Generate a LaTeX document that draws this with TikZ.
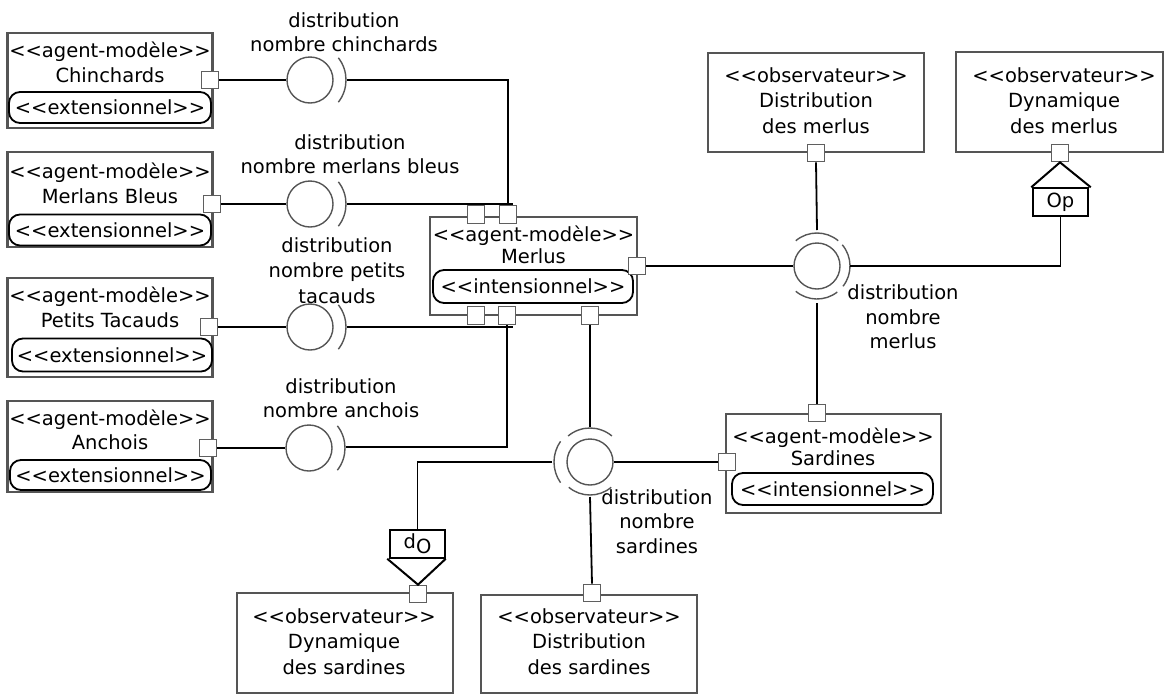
\documentclass[tikz,border=0pt]{standalone}
\usepackage{fontspec}
\newfontfamily\dv{DejaVu Sans}
\definecolor{boxgray}{RGB}{85,85,85}
\definecolor{portgray}{RGB}{95,95,95}
\definecolor{circgray}{RGB}{85,85,85}
\begin{document}
\begin{tikzpicture}[x=1pt,y=-1pt,
  font=\dv\fontsize{19.5}{24.5}\selectfont,
  box/.style={draw=boxgray, line width=2.8pt, rectangle, inner sep=0pt},
  pill/.style={draw=black, line width=1.8pt, rounded corners=11pt, inner xsep=0pt, inner ysep=0pt},
  port/.style={draw=portgray, fill=white, line width=1.2pt, minimum size=17.5pt, inner sep=0pt},
  ball/.style={circle, draw=circgray, line width=1.4pt, minimum size=46pt, inner sep=0pt},
  sock/.style={draw=circgray, line width=1.4pt},
  wire/.style={draw=black, line width=1.8pt},
  tri/.style={draw=black, line width=2pt},
  opbox/.style={draw=black, line width=1.5pt, inner sep=0pt, minimum width=55pt, minimum height=28pt},
  txt/.style={align=center, inner sep=0pt, anchor=base},
  sp22/.style={font=\dv\fontsize{19.5}{22}\selectfont},
  sp25/.style={font=\dv\fontsize{19.5}{25.5}\selectfont},
]
\useasboundingbox (0,0) rectangle (1167,694);

% ---------- boxes ----------
\node[box, minimum width=205pt, minimum height=95pt] (chin) at (110,80.5) {};
\node[box, minimum width=205pt, minimum height=95pt] (mb) at (110,199.5) {};
\node[box, minimum width=205pt, minimum height=99pt] (pt) at (110,327.5) {};
\node[box, minimum width=205pt, minimum height=91pt] (anc) at (110,446.5) {};
\node[box, minimum width=207pt, minimum height=98pt] (merl) at (533.5,266) {};
\node[box, minimum width=215pt, minimum height=99pt] (sard) at (833.5,463.5) {};
\node[box, minimum width=216pt, minimum height=99pt] (dm) at (816,102.5) {};
\node[box, minimum width=207pt, minimum height=100pt] (dym) at (1059.5,102) {};
\node[box, minimum width=216pt, minimum height=100pt] (dys) at (345,643) {};
\node[box, minimum width=216pt, minimum height=98pt] (dss) at (589,644) {};

% ---------- pills ----------
\node[pill, minimum width=202pt, minimum height=31pt] (chinpill) at (110,107.5) {<<extensionnel>>};
\node[pill, minimum width=202pt, minimum height=31pt] (mbpill) at (110,230) {<<extensionnel>>};
\node[pill, minimum width=200pt, minimum height=33pt] (ptpill) at (112,355) {<<extensionnel>>};
\node[pill, minimum width=201pt, minimum height=30pt] (ancpill) at (110.5,475) {<<extensionnel>>};
\node[pill, minimum width=200pt, minimum height=33pt] (merlpill) at (533,286.5) {<<intensionnel>>};
\node[pill, minimum width=201pt, minimum height=32pt] (sardpill) at (832.5,489) {<<intensionnel>>};

% ---------- titles (anchor = baseline of last line) ----------
\node[txt] (tchin) at (110,82) {<<agent-modèle>>\\Chinchards};
\node[txt] (tmb) at (110,203) {<<agent-modèle>>\\Merlans Bleus};
\node[txt] (tpt) at (110,327) {<<agent-modèle>>\\Petits Tacauds};
\node[txt] (tanc) at (110,449.5) {<<agent-modèle>>\\Anchois};
\node[txt, sp22] (tmerl) at (533.5,263.5) {<<agent-modèle>>\\Merlus};
\node[txt, sp22] (tsard) at (833,465) {<<agent-modèle>>\\Sardines};
\node[txt, sp25] (tdm) at (816,133) {<<observateur>>\\Distribution\\des merlus};
\node[txt, sp25] (tdym) at (1064,133) {<<observateur>>\\Dynamique\\des merlus};
\node[txt, sp25] (tdys) at (344,674) {<<observateur>>\\Dynamique\\des sardines};
\node[txt, sp25] (tdss) at (589,674) {<<observateur>>\\Distribution\\des sardines};

% ---------- interface labels ----------
\node[txt] (lchin) at (344,51.5) {distribution\\nombre chinchards};
\node[txt] (lmb) at (350,173.5) {distribution\\nombre merlans bleus};
\node[txt, sp25] (lpt) at (337,303) {distribution\\nombre petits\\tacauds};
\node[txt] (lanc) at (341,417.5) {distribution\\nombre anchois};
\node[txt] (lmerl) at (903,348.5) {distribution\\nombre\\merlus};
\node[txt] (lsard) at (657,553) {distribution\\nombre\\sardines};

% ---------- balls ----------
\node[ball] (bchin) at (310,80) {};
\node[ball] (bmb) at (310,204) {};
\node[ball] (bpt) at (310,327) {};
\node[ball] (banc) at (309,448) {};
\node[ball] (bmerl) at (817,266) {};
\node[ball] (bsard) at (590,462) {};

% sockets of the lollipops
\foreach \b in {bchin,bmb,bpt,banc}{
  \draw[sock] ([shift={(-38:36pt)}]\b.center) arc[start angle=-38,end angle=38,radius=36pt];
}
% merlus socket
\draw[sock] ([shift={(50:33pt)}]bmerl.center) arc[start angle=50,end angle=130,radius=33pt];
\draw[sock] ([shift={(-38:33pt)}]bmerl.center) arc[start angle=-38,end angle=40,radius=33pt];
\draw[sock] ([shift={(-130:33pt)}]bmerl.center) arc[start angle=-130,end angle=-52,radius=33pt];
% sardines socket
\draw[sock] ([shift={(50:34pt)}]bsard.center) arc[start angle=50,end angle=130,radius=34pt];
\draw[sock] ([shift={(145:36pt)}]bsard.center) arc[start angle=145,end angle=215,radius=36pt];
\draw[sock] ([shift={(-130:33pt)}]bsard.center) arc[start angle=-130,end angle=-50,radius=33pt];

% ---------- ports ----------
\node[port] (pchin) at (210,80) {};
\node[port] (pmb) at (212,204) {};
\node[port] (ppt) at (209,327) {};
\node[port] (panc) at (208,448) {};
\node[port] (pmt1) at (476,214.5) {};
\node[port] (pmt2) at (508,214.5) {};
\node[port] (pmr) at (637,266) {};
\node[port] (pmb1) at (476,315.5) {};
\node[port] (pmb2) at (507,315.5) {};
\node[port] (pmb3) at (590,315.5) {};
\node[port] (pst) at (817,413) {};
\node[port] (psl) at (727,462) {};
\node[port] (pdm) at (816,153) {};
\node[port] (pdym) at (1060,153) {};
\node[port] (pdys) at (418,594) {};
\node[port] (pdss) at (592,593) {};

% ---------- Op / dO ----------
\node[opbox] (op) at (1060.5,202) {Op};
\node[opbox] (do) at (417.5,544) {d\raisebox{-5pt}{O}};
\draw[tri] ([xshift=-1pt]op.north west) -- (pdym.south) -- ([xshift=2pt]op.north east);
\draw[tri] ([xshift=-2pt]do.south west) -- (pdys.north) -- (do.south east);

% ---------- wires ----------
\draw[wire] (pchin.east) -- (bchin.west);
\draw[wire] ([xshift=37pt]bchin.center) -| (pmt2.north);
\draw[wire] (pmb.east) -- (bmb.west);
\draw[wire] ([xshift=37pt]bmb.center) -- ([xshift=37pt]bmb.center -| pmt1.center);
\draw[wire] (ppt.east) -- (bpt.west);
\draw[wire] ([xshift=37pt]bpt.center) -- ([xshift=37pt]bpt.center -| pmb1.center);
\draw[wire] (panc.east) -- (banc.west);
\draw[wire] ([xshift=37pt,yshift=1pt]banc.center) -| (pmb2.south);

\draw[wire] (pmr.east) -- (bmerl.west);
\draw[wire] (pdm.south) -- ([yshift=36pt]bmerl.center);
\draw[wire] (op.south) |- ([xshift=33pt]bmerl.center);
\draw[wire] ([yshift=-37pt]bmerl.center) -- (pst.north);

\draw[wire] (pmb3.south) -- ([yshift=35pt]bsard.center);
\draw[wire] (psl.west) -- (bsard.east);
\draw[wire] ([xshift=-38pt]bsard.center) -| (do.north);
\draw[wire] ([yshift=-35pt]bsard.center) -- (pdss.north);
\end{tikzpicture}
\end{document}
